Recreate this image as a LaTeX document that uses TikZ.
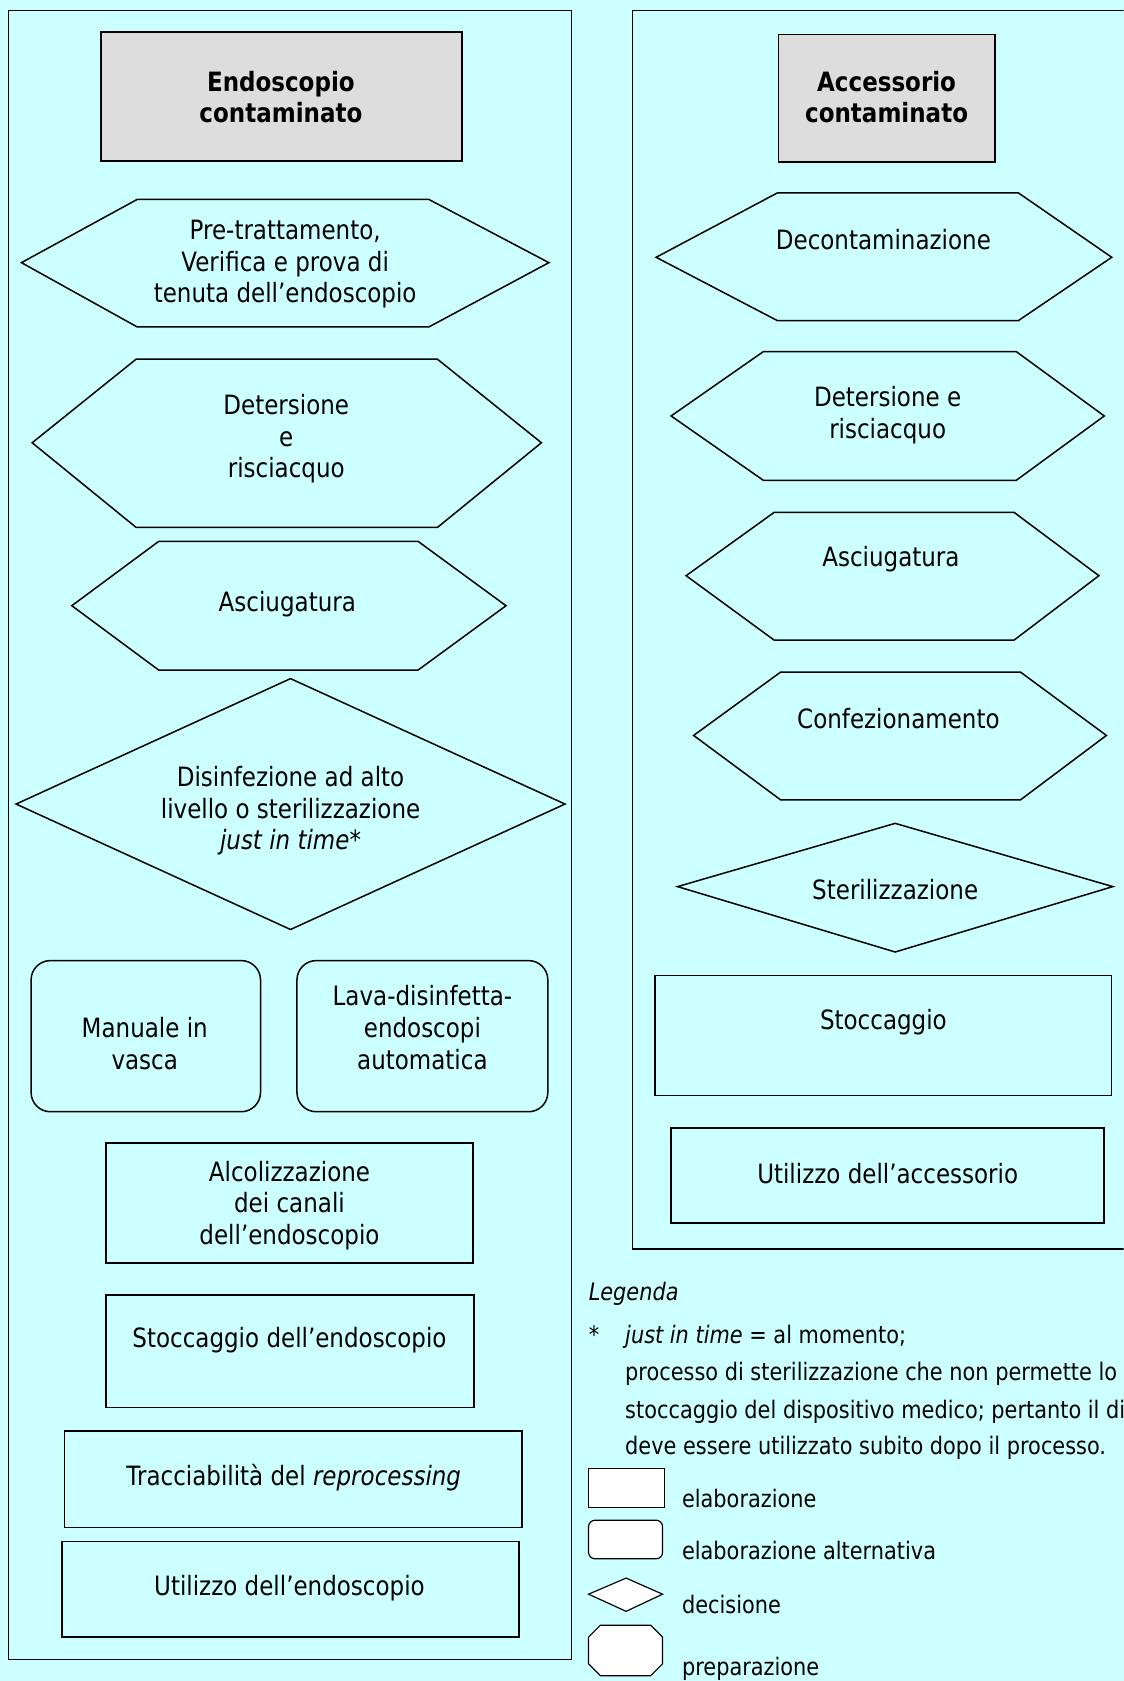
\documentclass[tikz,border=0pt]{standalone}
\usepackage{fontspec}
\setmainfont{DejaVu Sans}[FakeStretch=0.865]
\definecolor{bgcyan}{HTML}{CCFFFF}
\definecolor{boxgray}{HTML}{DDDDDD}
\begin{document}
\begin{tikzpicture}[x=1pt,y=-1pt,
  shp/.style={draw=black,line width=1.4pt,line join=miter},
  txt/.style={font=\fontsize{24.8}{29.5}\selectfont,align=center,inner sep=0pt,yshift=-2.5pt},
  btxt/.style={txt,font=\fontsize{24.8}{29.5}\selectfont\bfseries},
  ltxt/.style={font=\fontsize{22.5}{26}\selectfont,inner sep=0pt,anchor=base west,yshift=-2pt},
  lshp/.style={draw=black,line width=1.1pt,fill=white}]
\fill[bgcyan] (0,0) rectangle (1048,1568);
\useasboundingbox (0,0) rectangle (1048,1568);
\clip (0,0) rectangle (1048,1568);
% panels
\draw[shp] (8,10) rectangle (533,1548);
\draw[shp] (590,10) rectangle (1080,1165);
% ---------- left column ----------
\draw[shp,fill=boxgray] (94,30) rectangle (431,150);
\node[btxt] (endo) at (262,88) {Endoscopio\\contaminato};
\draw[shp] (20,245) -- (128,186) -- (400,186) -- (512,245) -- (400,305) -- (128,305) -- cycle;
\node[txt] (pre) at (266,244) {Pre-trattamento,\\Verifica e prova di\\tenuta dell’endoscopio};
\draw[shp] (30,413) -- (127,335) -- (408,335) -- (505,413) -- (408,492) -- (127,492) -- cycle;
\node[txt] (det) at (267,407) {Detersione\\e\\risciacquo};
\draw[shp] (67,565) -- (148,505) -- (390,505) -- (472,565) -- (390,625) -- (148,625) -- cycle;
\node[txt] (asc) at (268,561) {Asciugatura};
\draw[shp] (271,633) -- (527,750) -- (271,867) -- (15,750) -- cycle;
\node[txt] (dis) at (271,754) {Disinfezione ad alto\\livello o sterilizzazione\\\textit{just in time}*};
\draw[shp,rounded corners=18pt] (29,896) rectangle (243,1037);
\node[txt] (man) at (135,971) {Manuale in\\vasca};
\draw[shp,rounded corners=18pt] (277,896) rectangle (511,1037);
\node[txt] (lava) at (394,956) {Lava-disinfetta-\\endoscopi\\automatica};
\draw[shp] (99,1066) rectangle (441,1178);
\node[txt] (alc) at (270,1122) {Alcolizzazione\\dei canali\\dell’endoscopio};
\draw[shp] (99,1208) rectangle (442,1313);
\node[txt] (sto) at (270,1248) {Stoccaggio dell’endoscopio};
\draw[shp] (60,1335) rectangle (487,1425);
\node[txt] (tra) at (274,1376) {Tracciabilità del \textit{reprocessing}};
\draw[shp] (58,1438) rectangle (484,1527);
\node[txt] (uti) at (270,1479) {Utilizzo dell’endoscopio};
% ---------- right column ----------
\draw[shp,fill=boxgray] (726,32) rectangle (928,151);
\node[btxt] (acc) at (827,88) {Accessorio\\contaminato};
\draw[shp] (612,240) -- (725,180) -- (950,180) -- (1037,240) -- (950,299) -- (725,299) -- cycle;
\node[txt] (dec) at (824,221) {Decontaminazione};
\draw[shp] (626,388) -- (712,328) -- (948,328) -- (1030,388) -- (948,448) -- (712,448) -- cycle;
\node[txt] (detr) at (828,385) {Detersione e\\risciacquo};
\draw[shp] (640,537) -- (722,478) -- (946,478) -- (1025,537) -- (946,597) -- (722,597) -- cycle;
\node[txt] (ascr) at (831,519) {Asciugatura};
\draw[shp] (647,686) -- (728,627) -- (952,627) -- (1032,686) -- (952,746) -- (728,746) -- cycle;
\node[txt] (conf) at (838,668) {Confezionamento};
\draw[shp] (835,768) -- (1038,827) -- (835,888) -- (632,827) -- cycle;
\node[txt] (ster) at (835,827) {Sterilizzazione};
\draw[shp] (611,910) rectangle (1037,1022);
\node[txt] (stor) at (824,951) {Stoccaggio};
\draw[shp] (626,1052) rectangle (1030,1141);
\node[txt] (utir) at (828,1092) {Utilizzo dell’accessorio};
% ---------- legend ----------
\node[ltxt] (leg) at (549,1211) {\textit{Legenda}};
\node[ltxt] (star) at (549,1251) {*};
\node[ltxt] (jit) at (583,1251) {\textit{just in time} = al momento;};
\node[ltxt] (l2) at (583,1286) {processo di sterilizzazione che non permette lo};
\node[ltxt] (l3) at (583,1321) {stoccaggio del dispositivo medico; pertanto il dispositivo};
\node[ltxt] (l4) at (583,1355) {deve essere utilizzato subito dopo il processo.};
\draw[lshp] (549,1370) rectangle (620,1406);
\node[ltxt] (le1) at (636,1404) {elaborazione};
\draw[lshp,rounded corners=6pt] (549,1418) rectangle (618,1454);
\node[ltxt] (le2) at (636,1453) {elaborazione alternativa};
\draw[lshp] (549,1487) -- (584,1472) -- (618,1487) -- (584,1503) -- cycle;
\node[ltxt] (le3) at (636,1503) {decisione};
\draw[lshp] (560,1516) -- (607,1516) -- (618,1527) -- (618,1552) -- (607,1563) -- (560,1563) -- (549,1552) -- (549,1527) -- cycle;
\node[ltxt] (le4) at (636,1561) {preparazione};
\end{tikzpicture}
\end{document}
